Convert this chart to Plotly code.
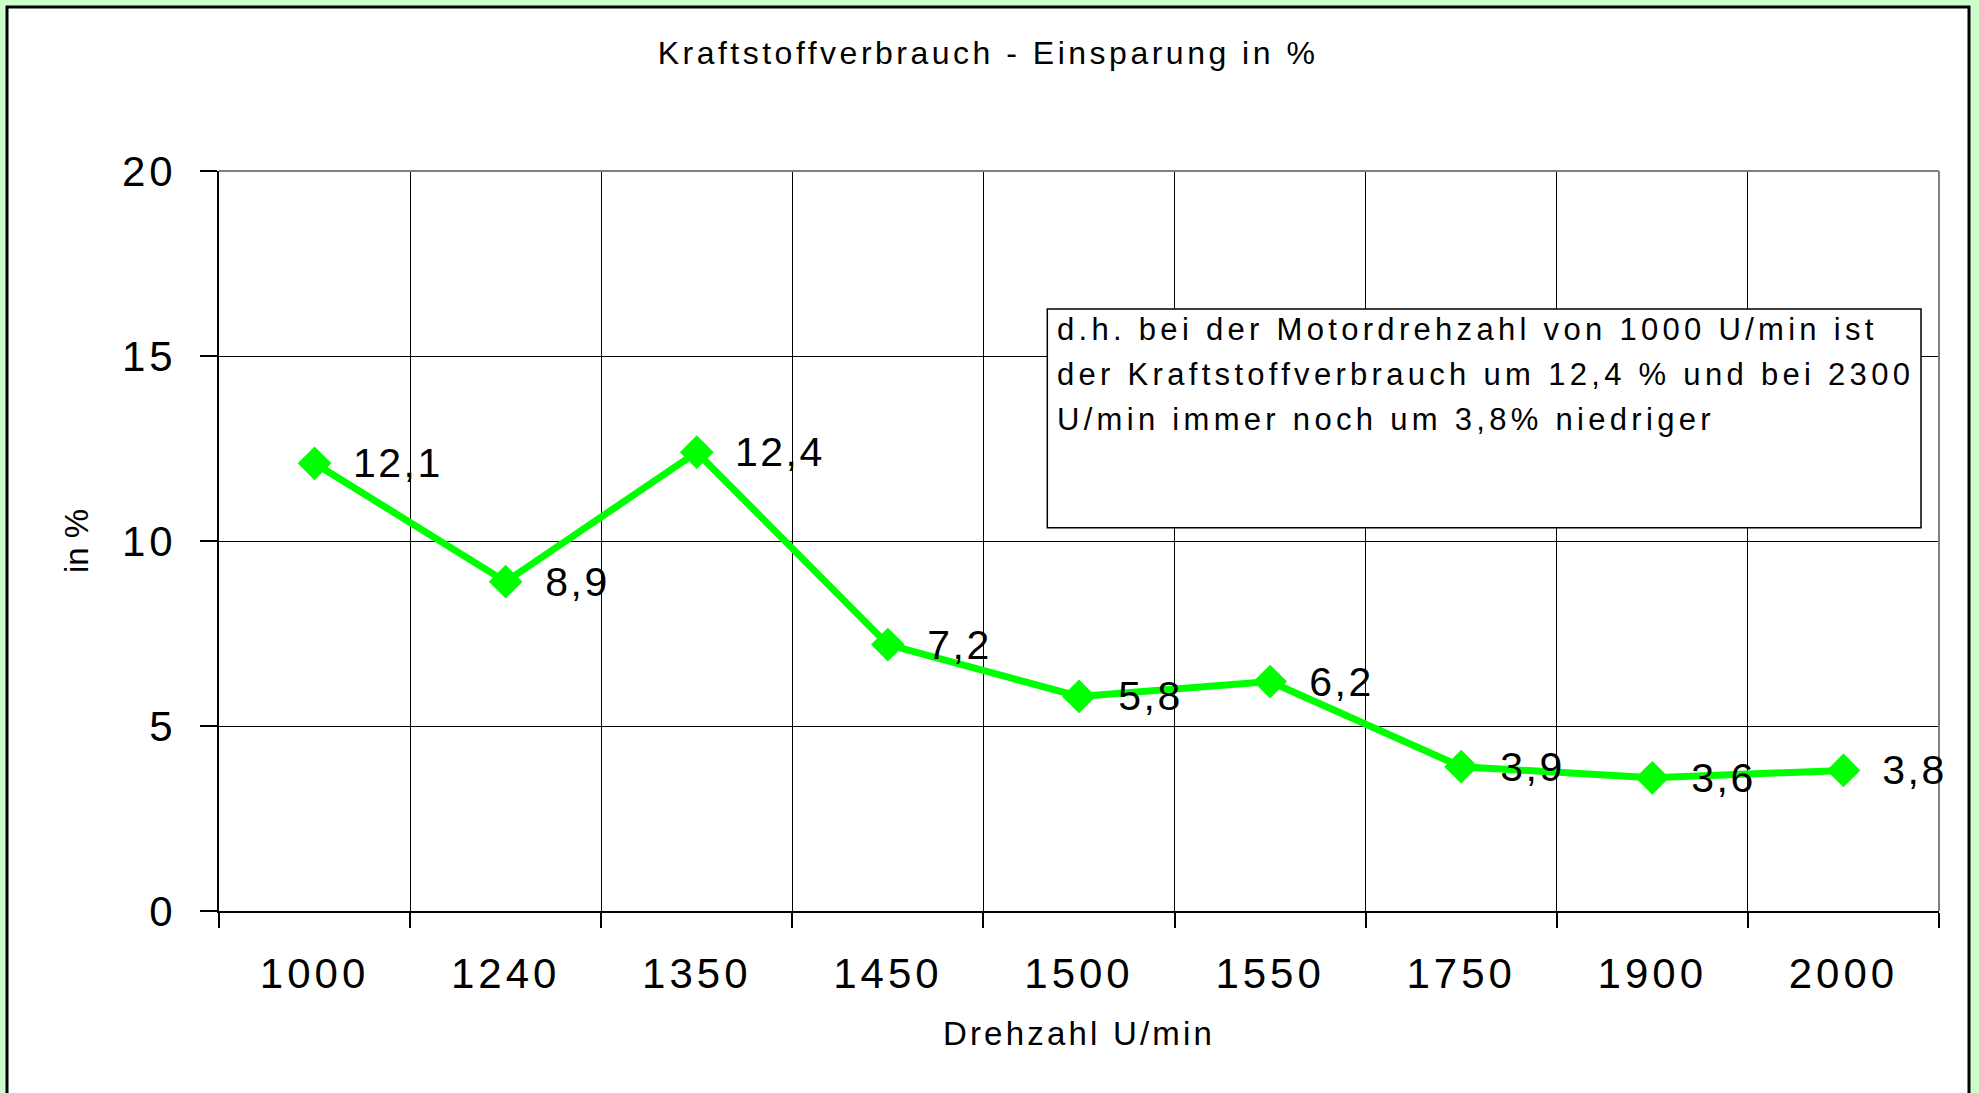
import plotly.graph_objects as go

# ---- data ----
categories = ["1000", "1240", "1350", "1450", "1500", "1550", "1750", "1900", "2000"]
savings = [12.1, 8.9, 12.4, 7.2, 5.8, 6.2, 3.9, 3.6, 3.8]
y_ticks = [0, 5, 10, 15, 20]
title_text = "Kraftstoffverbrauch - Einsparung in %"
x_title = "Drehzahl U/min"
y_title = "in %"
note_lines = [
    "d.h. bei der Motordrehzahl von 1000 U/min ist",
    "der Kraftstoffverbrauch um 12,4 % und bei 2300",
    "U/min immer noch um 3,8% niedriger",
]
labels = [f"{v:.1f}".replace(".", ",") for v in savings]

W, H = 1979, 1093
L, R, T, B = 219, 40, 171, 182
PW, PH = W - L - R, H - T - B


def px_x(p):
    return (p - L) / PW


def px_y(p):
    return (H - B - p) / PH


FONT = "Arial, Liberation Sans, sans-serif"
GREEN = "#00FF00"

fig = go.Figure()
fig.add_trace(go.Scatter(
    x=categories, y=savings, mode="lines+markers",
    line=dict(color=GREEN, width=7),
    marker=dict(symbol="diamond", size=26, color=GREEN),
    hoverinfo="skip", showlegend=False,
))

annotations = []
# note box text (indices 0..2)
note_y = [329.5, 374.5, 419.0]
for line, yy in zip(note_lines, note_y):
    annotations.append(dict(
        xref="paper", yref="paper", x=px_x(1055), y=px_y(yy),
        xanchor="left", yanchor="middle", text=line, showarrow=False,
        font=dict(family=FONT, size=31, color="black"), align="left",
    ))
# data labels (category index positions on the category axis)
for i, (v, lab) in enumerate(zip(savings, labels)):
    annotations.append(dict(
        x=i, y=v, xref="x", yref="y", text=lab, showarrow=False,
        xanchor="left", yanchor="middle", xshift=41,
        font=dict(family=FONT, size=41, color="black"),
    ))

shapes = [
    # white chart area with black frame
    dict(type="rect", xref="paper", yref="paper",
         x0=px_x(7), x1=px_x(1969), y0=px_y(1100), y1=px_y(7),
         fillcolor="white", line=dict(color="black", width=3), layer="below"),
    # note box
    dict(type="rect", xref="paper", yref="paper",
         x0=px_x(1047.3), x1=px_x(1921), y0=px_y(527.7), y1=px_y(309),
         fillcolor="white", line=dict(color="black", width=1.5), layer="above"),
    # grey plot border top/right
    dict(type="line", xref="paper", yref="paper", x0=0, x1=1, y0=1, y1=1,
         line=dict(color="#808080", width=2), layer="above"),
    dict(type="line", xref="paper", yref="paper", x0=1, x1=1, y0=0, y1=1,
         line=dict(color="#808080", width=2), layer="above"),
]

fig.update_layout(
    width=W, height=H,
    margin=dict(l=L, r=R, t=T, b=B, pad=0),
    paper_bgcolor="#CCFFCC", plot_bgcolor="white",
    font=dict(family=FONT, color="black"),
    title=dict(text=title_text, x=px_x(988), xref="paper", xanchor="center",
               y=1 - 53 / H, yref="container", yanchor="middle",
               font=dict(family=FONT, size=32, color="black")),
    xaxis=dict(type="category", categoryorder="array", categoryarray=categories,
               range=[-0.5, len(categories) - 0.5], tickson="boundaries",
               ticks="outside", ticklen=15, tickwidth=1.5, tickcolor="black",
               showgrid=True, gridcolor="black", gridwidth=1,
               showline=True, linecolor="black", linewidth=2,
               tickfont=dict(family=FONT, size=42, color="black"),
               ticklabelstandoff=25,
               title=dict(text=x_title, standoff=25,
                          font=dict(family=FONT, size=33, color="black"))),
    yaxis=dict(range=[0, 20], tickvals=y_ticks, ticktext=[str(v) for v in y_ticks],
               ticks="outside", ticklen=17, tickwidth=1.5, tickcolor="black",
               showgrid=True, gridcolor="black", gridwidth=1, zeroline=False,
               showline=True, linecolor="black", linewidth=2,
               tickfont=dict(family=FONT, size=42, color="black"),
               ticklabelstandoff=15,
               title=dict(text=y_title, standoff=31,
                          font=dict(family=FONT, size=33, color="black"))),
    annotations=annotations,
    shapes=shapes,
)

css = (
    "body{margin:0;overflow:hidden}"
    ".gtitle{letter-spacing:3.5px}"
    ".xtick text,.ytick text{letter-spacing:4px}"
    ".xtitle{letter-spacing:3.2px}"
    ".annotation text{letter-spacing:2.5px}"
    ".annotation[data-index='0'] text,.annotation[data-index='1'] text,"
    ".annotation[data-index='2'] text{letter-spacing:4.3px}"
)
post = ("var s=document.createElement('style');s.textContent=\"" + css +
        "\";document.head.appendChild(s);")

fig.write_html("out.html", post_script=post, config={"displayModeBar": False})
